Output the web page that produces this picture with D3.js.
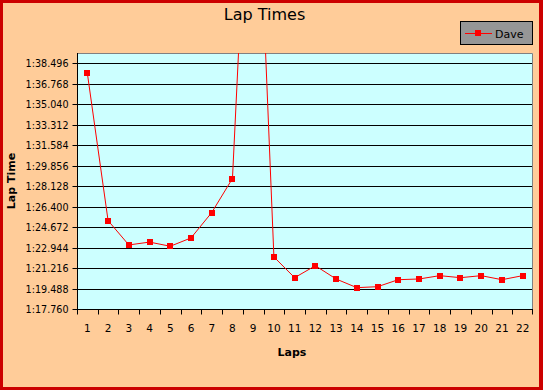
<!DOCTYPE html>
<html>
<head>
<meta charset="utf-8">
<script src="https://cdn.jsdelivr.net/npm/d3@7"></script>
<style>
  body { margin: 0; }
  svg { display: block; font-family: "DejaVu Sans", Verdana, sans-serif; }
</style>
</head>
<body>
<svg id="chart" width="543" height="390"></svg>
<script>
// lap numbers and times (seconds)
const laps = d3.range(1, 23);
const lapTimes = [97.62, 85.21, 83.16, 83.40, 83.05, 83.75, 85.89, 88.76, 125.0, 82.15, 80.40,
  81.41, 80.29, 79.56, 79.64, 80.23, 80.29, 80.57, 80.40, 80.57, 80.23, 80.57];
const seriesName = 'Dave';
const yTicks = [77.760, 79.488, 81.216, 82.944, 84.672, 86.400, 88.128, 89.856,
  91.584, 93.312, 95.040, 96.768, 98.496];

const W = 543, H = 390;
const plot = {left: 77, top: 53, right: 533, bottom: 309};

const svg = d3.select('#chart');

// background + red frame
svg.append('rect').attr('width', W).attr('height', H).attr('fill', '#cc0000');
svg.append('rect').attr('x', 3).attr('y', 3).attr('width', W - 7).attr('height', H - 6)
  .attr('fill', '#ffcc99');

const x = d3.scaleBand().domain(laps).range([plot.left, plot.right]).padding(0);
const y = d3.scaleLinear().domain([77.76, 99.34]).range([plot.bottom, plot.top]);

const fmt = (v) => {
  const m = Math.floor(v / 60);
  const s = (v - m * 60).toFixed(3).padStart(6, '0');
  return m + ':' + s;
};

// plot area
svg.append('rect')
  .attr('x', plot.left).attr('y', plot.top)
  .attr('width', plot.right - plot.left).attr('height', plot.bottom - plot.top)
  .attr('fill', '#ccffff');

// top/right border gray
svg.append('path')
  .attr('d', `M${plot.left},${plot.top + 0.5}H${plot.right - 0.5}V${plot.bottom}`)
  .attr('fill', 'none').attr('stroke', '#808080').attr('stroke-width', 1);

// gridlines
svg.append('g').selectAll('line').data(yTicks.slice(1)).join('line')
  .attr('x1', plot.left).attr('x2', plot.right - 1)
  .attr('y1', (d) => Math.round(y(d)) + 0.5).attr('y2', (d) => Math.round(y(d)) + 0.5)
  .attr('stroke', '#000').attr('stroke-width', 1);

// y axis
const yAxis = svg.append('g')
  .attr('transform', `translate(${plot.left + 0.5},0)`)
  .call(d3.axisLeft(y).tickValues(yTicks).tickFormat(fmt).tickSize(5).tickPadding(4));
yAxis.select('.domain').attr('d', `M0,${plot.top}V${plot.bottom + 0.5}`);
yAxis.selectAll('.tick').attr('transform', (d) => `translate(0,${Math.round(y(d)) + 0.5})`);
yAxis.selectAll('text').attr('font-size', 9.6).attr('font-family', '"DejaVu Sans", sans-serif')
  .attr('fill', '#000');

// x axis
const xAxis = svg.append('g')
  .attr('transform', `translate(0,${plot.bottom + 0.5})`)
  .call(d3.axisBottom(x).tickSize(0).tickPadding(15));
xAxis.select('.domain').attr('d', `M${plot.left},0H${plot.right}`);
xAxis.selectAll('text').attr('font-size', 10.5).attr('font-family', '"DejaVu Sans", sans-serif')
  .attr('fill', '#000');
xAxis.append('g').selectAll('line').data(laps.concat([null])).join('line')
  .attr('x1', (d) => Math.round(d === null ? plot.right - 1 : x(d)) + 0.5)
  .attr('x2', (d) => Math.round(d === null ? plot.right - 1 : x(d)) + 0.5)
  .attr('y1', 0).attr('y2', 5)
  .attr('stroke', '#000');

// series, clipped to plot
svg.append('clipPath').attr('id', 'clip').append('rect')
  .attr('x', plot.left).attr('y', plot.top)
  .attr('width', plot.right - plot.left).attr('height', plot.bottom - plot.top);

const pts = laps.map((l, i) => [x(l) + x.bandwidth() / 2, y(lapTimes[i])]);
const series = svg.append('g').attr('clip-path', 'url(#clip)');
series.append('path')
  .attr('d', d3.line()(pts))
  .attr('fill', 'none').attr('stroke', '#ff0000').attr('stroke-width', 1);
series.selectAll('rect').data(pts).join('rect')
  .attr('x', (d) => Math.round(d[0]) - 3).attr('y', (d) => Math.round(d[1]) - 3)
  .attr('width', 6).attr('height', 6).attr('fill', '#ff0000');

// titles
svg.append('text').attr('x', 264.5).attr('y', 20).attr('text-anchor', 'middle')
  .attr('font-size', 16).text('Lap Times');
svg.append('text').attr('transform', `translate(15,${(plot.top + plot.bottom) / 2}) rotate(-90)`)
  .attr('text-anchor', 'middle').attr('font-size', 11).attr('font-weight', 'bold').text('Lap Time');
svg.append('text').attr('x', 292).attr('y', 356).attr('text-anchor', 'middle')
  .attr('font-size', 11).attr('font-weight', 'bold').text('Laps');

// legend
const lg = svg.append('g').attr('transform', 'translate(460,21)');
lg.append('rect').attr('x', 0.5).attr('y', 0.5).attr('width', 72).attr('height', 23)
  .attr('fill', '#969696').attr('stroke', '#000');
lg.append('line').attr('x1', 5).attr('x2', 32).attr('y1', 12.5).attr('y2', 12.5)
  .attr('stroke', '#ff0000');
lg.append('rect').attr('x', 15).attr('y', 9).attr('width', 6).attr('height', 6).attr('fill', '#ff0000');
lg.append('text').attr('x', 35).attr('y', 16.5).attr('font-size', 11).text(seriesName);
</script>
</body>
</html>
